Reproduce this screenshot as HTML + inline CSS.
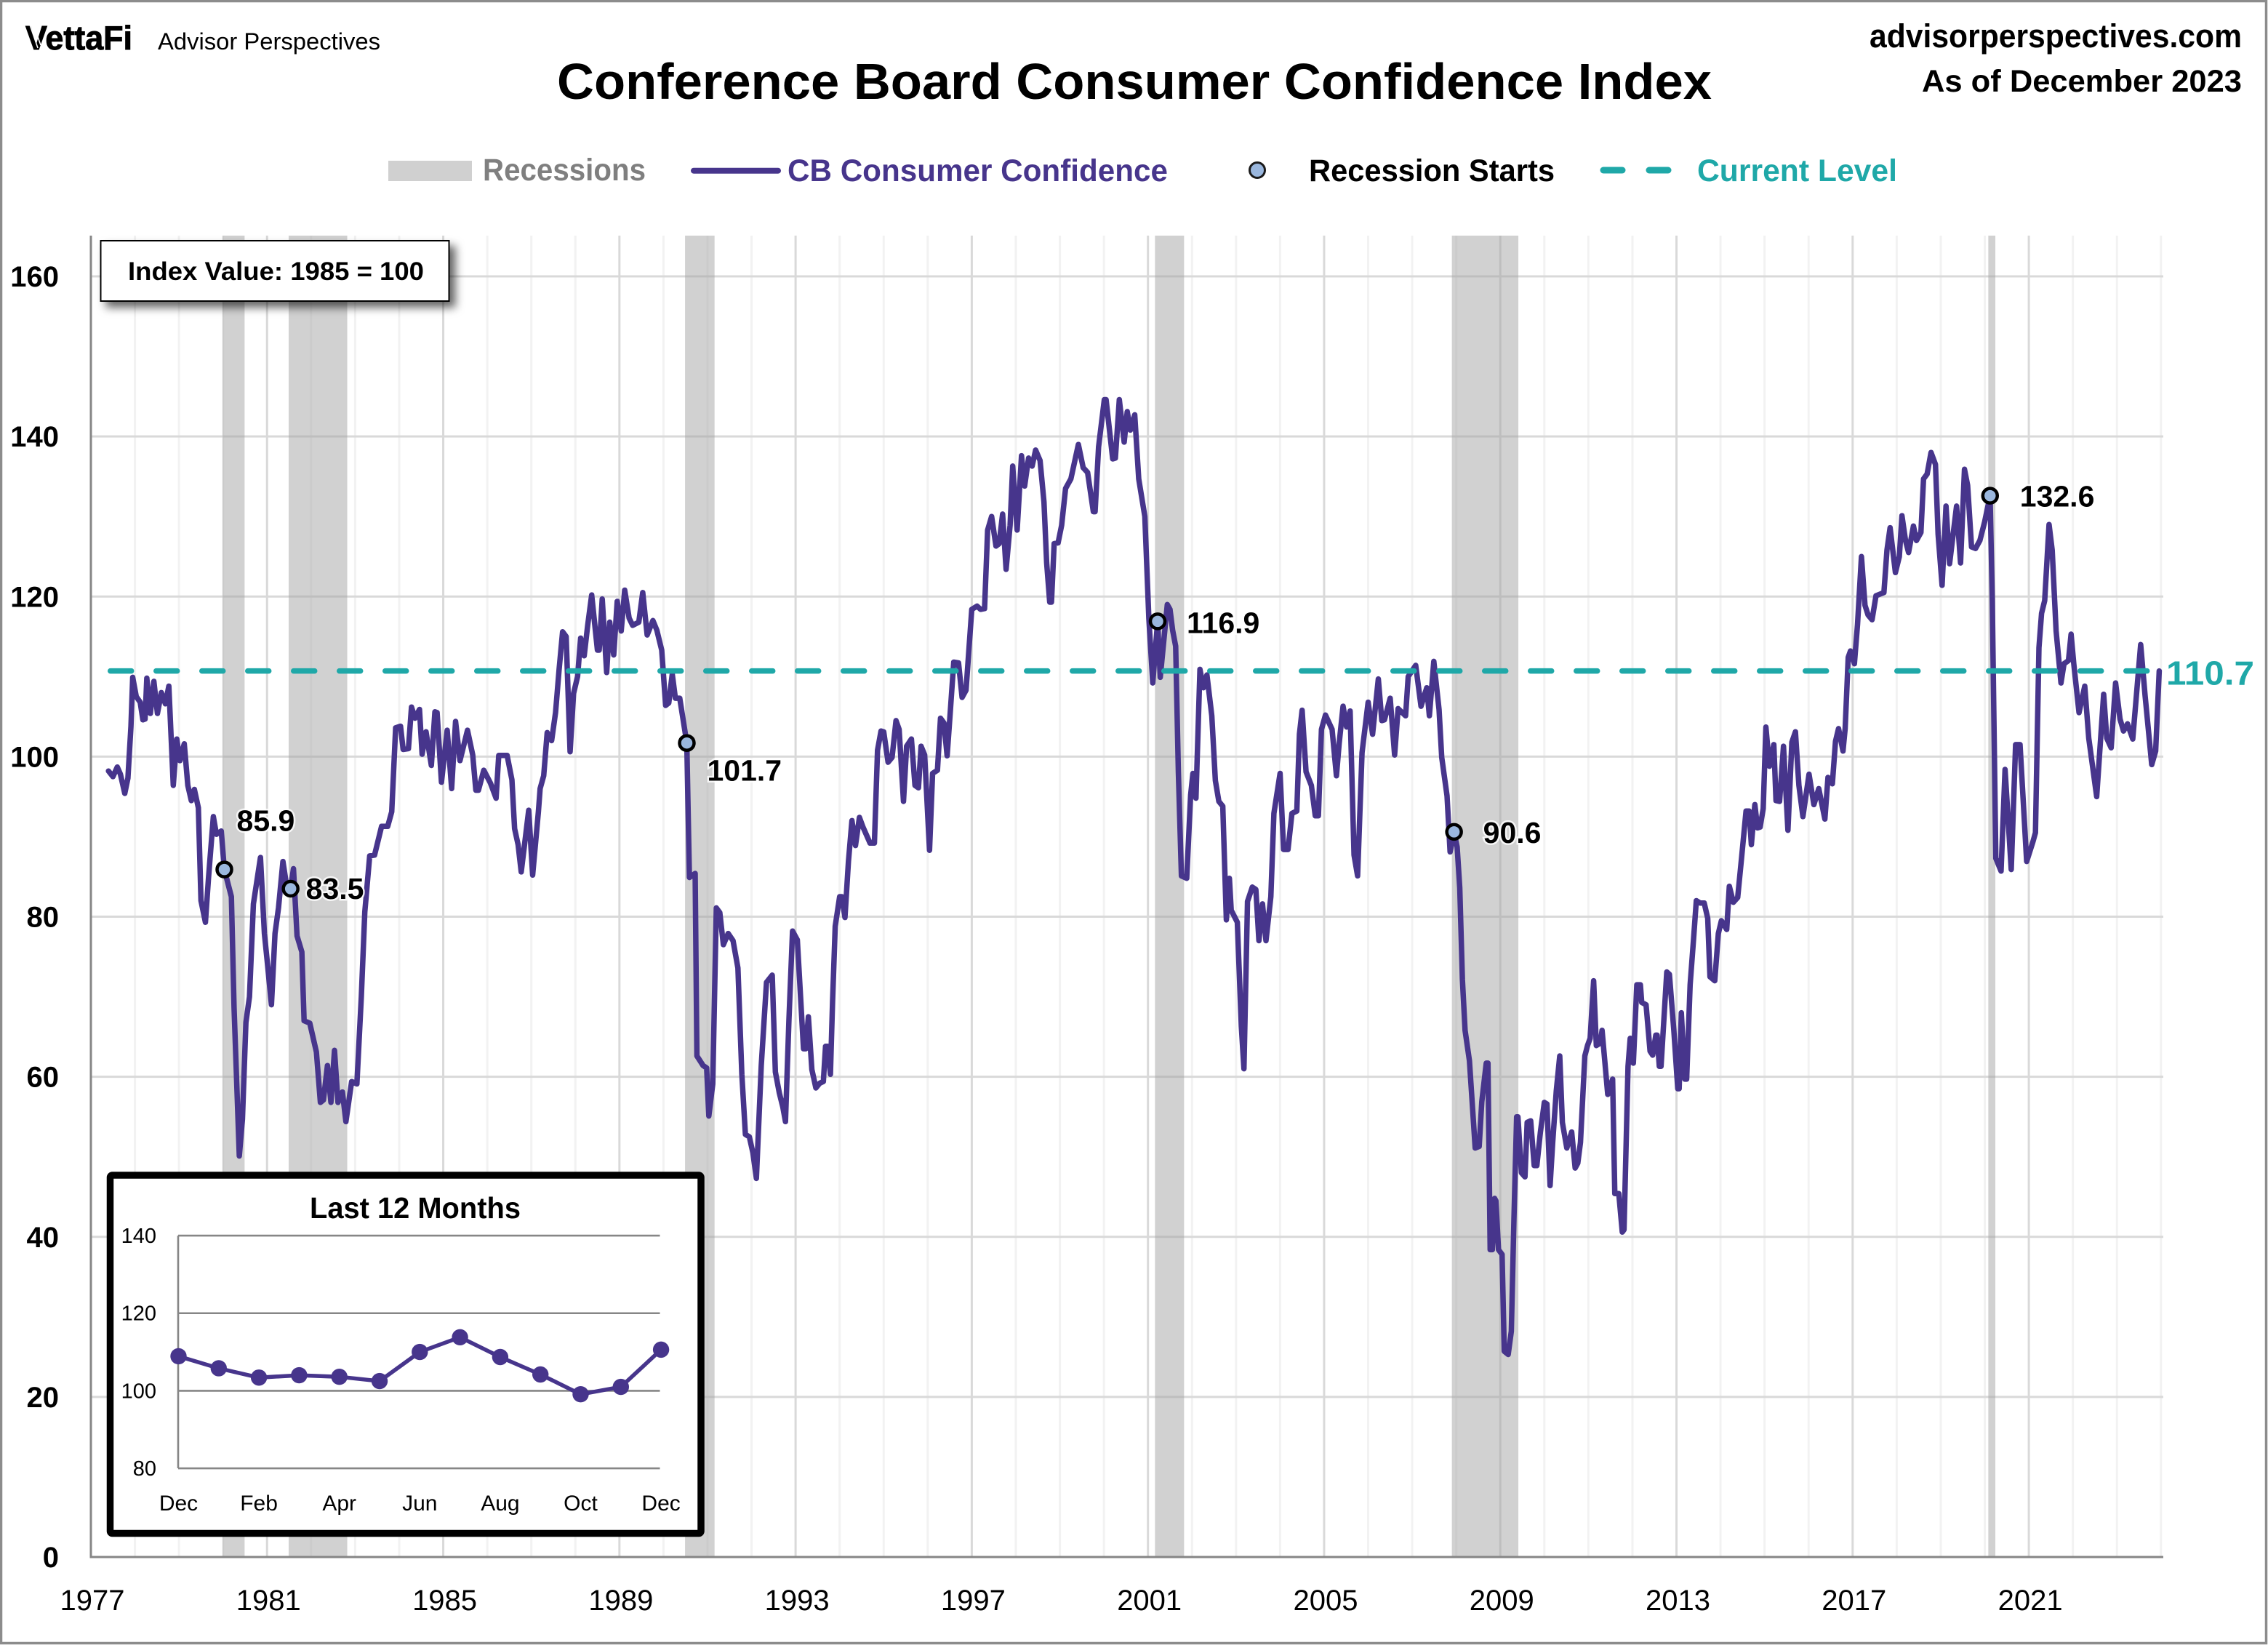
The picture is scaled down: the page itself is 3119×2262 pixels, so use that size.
<!DOCTYPE html>
<html lang="en">
<head>
<meta charset="utf-8">
<title>Conference Board Consumer Confidence Index</title>
<style>
html,body{margin:0;padding:0;background:#fff;width:3119px;height:2262px;overflow:hidden}
svg{display:block}
text{font-family:"Liberation Sans",sans-serif}
</style>
</head>
<body>
<svg id="chart" xmlns="http://www.w3.org/2000/svg" width="3119" height="2262" viewBox="0 0 3119 2262">
  <defs>
    <filter id="box-shadow" x="-10%" y="-20%" width="125%" height="150%">
      <feDropShadow dx="8" dy="8" stdDeviation="6" flood-color="#000" flood-opacity="0.6"/>
    </filter>
  </defs>
  <rect x="0" y="0" width="3119" height="2262" fill="#fff"/>
  <rect x="1.5" y="1.5" width="3115" height="2258" fill="none" stroke="#8c8c8c" stroke-width="3.5"/>

  <g>
    <text x="35" y="68" font-size="46" font-weight="700" textLength="147" lengthAdjust="spacingAndGlyphs" fill="#000" stroke="#000" stroke-width="1">VettaFi</text>
    <line x1="41" y1="34" x2="52" y2="66" stroke="#fff" stroke-width="1.6"/>
    <line x1="46" y1="34" x2="56" y2="62" stroke="#fff" stroke-width="1.6"/>
  </g>
  <text x="217" y="68" font-size="32" textLength="306" lengthAdjust="spacingAndGlyphs" fill="#000">Advisor Perspectives</text>
  <text x="766" y="136" font-size="70" font-weight="700" textLength="1588" lengthAdjust="spacingAndGlyphs" fill="#000">Conference Board Consumer Confidence Index</text>
  <text x="3083" y="65" text-anchor="end" font-size="45" font-weight="700" textLength="512" lengthAdjust="spacingAndGlyphs" fill="#000">advisorperspectives.com</text>
  <text x="3083" y="126" text-anchor="end" font-size="43" font-weight="700" textLength="440" lengthAdjust="spacingAndGlyphs" fill="#000">As of December 2023</text>

  <g>
    <rect x="534" y="221" width="115" height="28" fill="#d0d0d0"/>
    <text x="664" y="248" font-size="43" font-weight="700" textLength="224" lengthAdjust="spacingAndGlyphs" fill="#7f7f7f">Recessions</text>
    <line x1="954" y1="234.7" x2="1070" y2="234.7" stroke="#47358c" stroke-width="8" stroke-linecap="round"/>
    <text x="1083" y="249" font-size="43" font-weight="700" textLength="523" lengthAdjust="spacingAndGlyphs" fill="#47358c">CB Consumer Confidence</text>
    <circle cx="1729" cy="234" r="10.5" fill="#9ab7de" stroke="#1a1a1a" stroke-width="3"/>
    <text x="1800" y="249" font-size="43" font-weight="700" textLength="338" lengthAdjust="spacingAndGlyphs" fill="#000">Recession Starts</text>
    <line x1="2205" y1="234" x2="2231" y2="234" stroke="#1fa8a8" stroke-width="9" stroke-linecap="round"/>
    <line x1="2268" y1="234" x2="2294" y2="234" stroke="#1fa8a8" stroke-width="9" stroke-linecap="round"/>
    <text x="2334" y="249" font-size="43" font-weight="700" textLength="275" lengthAdjust="spacingAndGlyphs" fill="#1fa8a8">Current Level</text>
  </g>

  <g id="grid"></g>
  <g id="bands"></g>
  <g id="axes"></g>
  <g id="series"></g>

  <g>
    <rect x="138.5" y="331" width="479" height="83" fill="#fff" stroke="#000" stroke-width="2" filter="url(#box-shadow)"/>
    <text x="176" y="385" font-size="35" font-weight="700" textLength="407" lengthAdjust="spacingAndGlyphs" fill="#000">Index Value: 1985 = 100</text>
  </g>

  <g id="inset">
    <rect x="151.5" y="1616" width="812.5" height="492.5" rx="3" fill="#fff" stroke="#000" stroke-width="9.5"/>
    <text x="426" y="1675" font-size="41" font-weight="700" textLength="290" lengthAdjust="spacingAndGlyphs" fill="#000">Last 12 Months</text>
  </g>
</svg>

<script>
/* ---- main chart data (decimal year of each reading, index value) ---- */
const seriesDates = [
1977.40,1977.50,1977.60,1977.67,1977.77,1977.84,1977.91,1977.95,1978.03,1978.12,1978.18,1978.23,1978.27,1978.35,1978.43,1978.51,1978.60,1978.69,1978.77,1978.87,1978.95,1979.02,1979.12,1979.20,1979.28,1979.35,1979.44,1979.50,1979.60,1979.67,1979.78,1979.85,1979.96,
1980.03,1980.19,1980.25,1980.37,1980.44,1980.52,1980.60,1980.69,1980.85,1980.94,1981.00,1981.10,1981.18,1981.26,1981.36,1981.43,1981.535,1981.60,1981.68,1981.79,1981.84,1981.97,1982.12,1982.21,1982.28,1982.37,1982.45,1982.53,1982.61,1982.71,1982.79,1982.92,
1983.04,1983.14,1983.22,1983.33,1983.44,1983.60,1983.74,1983.83,1983.92,1984.03,1984.09,1984.21,1984.28,1984.36,1984.46,1984.52,1984.61,1984.73,1984.81,1984.86,1984.96,1985.09,1985.19,1985.28,1985.38,1985.55,1985.67,1985.74,1985.80,1985.92,1986.07,1986.20,
1986.26,1986.45,1986.56,1986.62,1986.70,1986.77,1986.94,1987.03,1987.16,1987.20,1987.28,1987.36,1987.46,1987.55,1987.63,1987.71,1987.79,1987.88,1987.96,1988.05,1988.12,1988.20,1988.28,1988.37,1988.50,1988.54,1988.61,1988.71,1988.78,1988.87,1988.95,1989.04,1989.12,1989.22,1989.30,1989.44,1989.53,1989.63,1989.76,1989.85,1989.96,1990.05,1990.12,1990.20,1990.27,1990.37,
1990.53,1990.59,1990.72,1990.76,1990.90,1990.98,1991.03,1991.12,1991.20,1991.28,1991.36,1991.47,1991.58,1991.69,1991.78,1991.86,1991.95,1992.03,1992.11,1992.22,1992.34,1992.47,1992.54,1992.63,1992.71,1992.77,1992.85,1992.93,1993.04,1993.18,1993.23,1993.29,1993.37,1993.46,1993.55,1993.63,1993.68,1993.73,1993.79,1993.84,1993.90,1994.00,1994.05,1994.12,1994.20,1994.28,1994.36,1994.45,1994.53,1994.69,1994.79,1994.86,1994.94,1995.00,
1995.10,1995.19,1995.28,1995.35,1995.45,1995.52,1995.63,1995.71,1995.79,1995.85,1995.93,1996.04,1996.11,1996.22,1996.29,1996.37,1996.44,1996.51,1996.59,1996.70,1996.78,1996.87,1997.00,1997.12,1997.20,1997.29,1997.36,1997.45,1997.55,1997.62,1997.70,1997.78,1997.87,1997.93,1998.03,1998.13,1998.20,1998.29,1998.37,1998.45,1998.55,1998.64,1998.70,1998.77,1998.81,1998.87,1998.96,
1999.04,1999.13,1999.25,1999.42,1999.53,1999.63,1999.76,1999.80,1999.88,2000.01,2000.05,2000.20,2000.26,2000.35,2000.46,2000.53,2000.60,2000.70,2000.79,2000.93,2001.02,2001.11,2001.22,2001.28,2001.44,2001.50,2001.56,2001.63,2001.69,2001.76,2001.88,2001.97,2002.02,2002.09,2002.18,2002.26,2002.34,2002.45,2002.53,2002.61,2002.70,2002.78,2002.85,2002.89,
2003.03,2003.12,2003.18,2003.26,2003.37,2003.45,2003.52,2003.60,2003.68,2003.79,2003.86,2004.00,2004.08,2004.18,2004.27,2004.38,2004.44,2004.50,2004.59,2004.71,2004.80,2004.87,2004.94,2005.03,2005.18,2005.28,2005.34,2005.43,2005.51,2005.59,2005.68,2005.76,2005.86,2006.00,2006.10,2006.23,2006.31,2006.37,2006.50,2006.60,2006.68,2006.85,2006.91,2007.08,2007.20,2007.33,2007.39,2007.49,
2007.61,2007.67,2007.79,2007.86,2007.95,2008.02,2008.08,2008.14,2008.20,2008.30,2008.36,2008.43,2008.52,2008.58,2008.68,2008.72,2008.77,2008.82,2008.87,2008.90,2008.96,2009.04,2009.09,2009.18,2009.25,2009.31,2009.37,2009.40,2009.48,2009.56,2009.61,2009.69,2009.77,2009.83,2009.91,2010.00,2010.06,2010.13,2010.19,2010.27,2010.35,2010.41,2010.51,2010.62,2010.70,2010.76,2010.82,2010.92,2010.98,
2011.04,2011.12,2011.18,2011.27,2011.31,2011.44,2011.55,2011.60,2011.69,2011.77,2011.81,2011.90,2011.95,2012.02,2012.10,2012.18,2012.21,2012.31,2012.40,2012.46,2012.53,2012.56,2012.61,2012.65,2012.78,2012.84,2012.94,2013.03,2013.06,2013.11,2013.19,2013.23,2013.31,2013.39,2013.45,2013.54,2013.63,2013.71,2013.76,2013.87,2013.95,
2014.02,2014.14,2014.20,2014.29,2014.39,2014.48,2014.58,2014.65,2014.70,2014.78,2014.84,2014.90,2014.97,2015.03,2015.11,2015.21,2015.26,2015.34,2015.43,2015.53,2015.62,2015.70,2015.78,2015.87,2016.01,2016.12,2016.23,2016.37,2016.44,2016.54,2016.61,2016.68,2016.78,2016.83,2016.90,2016.95,
2017.04,2017.11,2017.20,2017.28,2017.35,2017.44,2017.53,2017.71,2017.78,2017.85,2017.97,2018.06,2018.12,2018.20,2018.27,2018.38,2018.45,2018.55,2018.61,2018.69,2018.78,2018.88,2018.94,2019.03,2019.12,2019.20,2019.36,2019.45,2019.54,2019.61,2019.70,2019.79,2019.89,2020.00,2020.12,
2020.17,2020.25,2020.37,2020.46,2020.60,2020.70,2020.80,2020.95,2021.09,2021.15,2021.23,2021.29,2021.36,2021.46,2021.53,2021.62,2021.73,2021.80,2021.90,2021.96,2022.02,2022.14,2022.27,2022.36,2022.54,2022.70,2022.77,2022.87,2022.97,2023.07,2023.15,2023.24,2023.36,2023.54,2023.64,2023.79,2023.88,2023.96
];
const seriesValues = [
98.2,97.5,98.7,97.8,95.4,97.3,103.8,109.9,107.5,106.8,104.6,104.7,109.8,105.4,109.4,105.4,108,106.6,108.8,96.4,102.2,99.5,101.6,96.4,94.5,95.9,93.6,82,79.3,84.8,92.5,90.3,90.7,
85.9,82.5,68.6,50.1,54.7,66.8,70,81.6,87.4,77.9,74.6,69,77.9,81.1,86.9,84.4,83.5,86,77.6,75.6,67,66.7,63.1,56.8,57.1,61.4,56.8,63.3,56.8,58.1,54.4,59.4,
59.1,70,80.6,87.6,87.7,91.3,91.3,93.1,103.6,103.8,100.9,101,106.2,104.8,105.9,100.3,103.1,98.9,105.6,105.5,96.8,103.3,96,104.4,99.5,103.3,100.2,95.8,95.8,98.3,96.7,94.8,
100.15,100.15,97.1,91,89,85.6,93.3,85.2,93.1,96,97.6,103,102,105.5,110.9,115.6,115,100.6,107.9,110,114.8,112.6,116.4,120.2,113.3,113.3,119.7,110.5,116.8,112.7,119.4,115.7,120.8,117.3,116.4,116.8,120.5,115.2,117,115.8,113.3,106.4,106.7,110.3,107.3,107.3,
101.7,84.9,85.4,62.6,61.4,61.1,55.1,59.1,81.1,80.5,76.5,77.9,77,73.6,60.3,52.8,52.5,50.5,47.3,61.4,71.8,72.7,60.6,58,56.2,54.4,67.2,78.2,77.1,63.5,63.5,67.5,60.9,58.6,59.2,59.4,63.8,63.8,60.3,69.5,78.8,82.5,82.5,79.9,86.9,92,88.9,92.4,91.2,89.2,89.2,100.8,103.2,103.1,
99.3,99.9,104.5,103.4,94.4,101.3,102.2,96.4,96.1,101.3,100.2,88.3,97.9,98.3,104.8,104.2,100.1,105.4,111.8,111.7,107.4,108.3,118.4,118.8,118.4,118.5,128.3,130,126.3,126.6,130.3,123.4,128.9,136.3,128.3,137.6,133.8,137.3,136.3,138.3,137,131.8,124.2,119.3,119.3,126.6,126.7,
128.9,133.5,134.7,139,136.1,135.5,130.6,130.6,138.7,144.6,144.6,137.2,137.3,144.6,139.3,143.1,140.8,142.7,134.7,130,117.3,109.2,116.9,109.9,119,118.4,115.8,113.8,98.1,85.1,84.8,95.2,97.9,94.8,110.9,108.6,110.2,105.1,97,94.4,93.8,79.6,84.8,80.8,
79.3,66.3,61,81.9,83.7,83.4,77,81.6,77,82.5,92.9,97.9,88.4,88.4,92.9,93.2,102.8,105.8,98.1,96.4,92.6,92.6,103.4,105.2,103.4,97.6,101.6,106.3,103.7,105.7,87.7,85.1,100.5,106.8,102.8,109.7,104.5,104.6,107.3,100.2,106,105.1,110,111.4,106.3,108.6,105.1,111.9,
105.9,99.9,95.1,88.1,90.6,88.7,83.6,72.2,65.8,62,56.9,51.1,51.3,56.9,61.7,61.7,38.4,38.4,44.8,44.5,38.4,37.8,25.7,25.3,28.2,42.2,55,55,48,47.5,54.3,54.5,48.9,48.9,53.1,56.8,56.6,46.4,51.8,58.2,62.6,54.3,51.1,53.1,48.6,49.2,51.8,62.6,63.9,
64.8,72,63.9,64.2,65.8,57.8,59.7,45.4,45.4,40.6,40.9,61.3,64.8,61.7,71.5,71.5,69.3,69,63.2,62.7,65.2,65.2,61.3,61.3,73.1,72.8,65.8,58.5,58.5,68,59.7,59.7,71.5,77.3,82,81.7,81.7,79.8,72.5,72,77.9,
79.5,78.4,83.8,81.8,82.4,87.5,93.2,93.2,89,94,91.1,91.2,93.5,103.7,98.8,101.5,94.5,94.4,101.3,90.8,101.8,103.1,96.4,92.5,97.8,94,96,92.2,97.4,96.6,101.9,103.5,100.7,103.5,112.4,113.2,
111.6,116.5,125,118.9,117.7,117.1,120.1,120.5,125.8,128.6,123,125,130.1,127,125.5,128.8,127,128,134.7,135.3,138,136.5,127.8,121.4,131.3,124.1,131.3,124.2,135.9,133.9,126.2,126,127,129.4,132.6,
119.7,87.3,85.7,98.4,85.9,101.5,101.5,86.9,89.3,90.5,113.6,117.9,119.5,129,125.8,115.7,109.2,111.6,112,115.3,111.6,105.5,108.8,102.3,95,107.8,102.3,101.1,109.2,104.7,103.2,104.1,102.2,114,107.6,99,100.7,110.7
];
const currentLevel = 110.7;
const yTicks = [160,140,120,100,80,60,40,20,0];
const xTickYears = [1977,1981,1985,1989,1993,1997,2001,2005,2009,2013,2017,2021];
const recessionStarts = [1979.99,1981.49,1990.49,2001.16,2007.90,2020.08];
const recessionEnds = [1980.49,1982.82,1991.16,2001.82,2009.41,2020.24];
const markerDates = [1980.03,1981.535,1990.53,2001.22,2007.95,2020.12];
const markerValues = [85.9,83.5,101.7,116.9,90.6,132.6];

/* ---- inset data ---- */
const insetMonths = ['Dec','Jan','Feb','Mar','Apr','May','Jun','Jul','Aug','Sep','Oct','Nov','Dec'];
const insetValues = [108.9,105.8,103.4,104.0,103.6,102.5,110.0,113.8,108.7,104.2,99.1,101.0,110.6];
const insetYTicks = [140,120,100,80];

/* ---- layout (not data) ---- */
const NS = 'http://www.w3.org/2000/svg';
const plot = {left:125, right:2975, top:324, bottom:2141};
const PX_PER_YEAR = 60.57, PX_PER_UNIT = 11.006;
const inset = {left:245, right:907.5, firstX:245.5, stepX:55.3, y100:1912.4, unit:5.333};
const labelOffset = [[18,-53],[22,14],[29,52],[41,16],[41,15],[42,15]];

function xOf(t){ return plot.left + (t - 1977) * PX_PER_YEAR; }
function yOf(v){ return plot.bottom - v * PX_PER_UNIT; }
function insetX(i){ return inset.firstX + i * inset.stepX; }
function insetY(v){ return inset.y100 - (v - 100) * inset.unit; }
function mk(parent, tag, attrs, txt){
  const el = document.createElementNS(NS, tag);
  for (const k in attrs) el.setAttribute(k, attrs[k]);
  if (txt !== undefined) el.textContent = txt;
  parent.appendChild(el);
  return el;
}

const gGrid = document.getElementById('grid');
const gBands = document.getElementById('bands');
const gAxes = document.getElementById('axes');
const gSeries = document.getElementById('series');
const gInset = document.getElementById('inset');

/* vertical grid: every year, darker on labelled years */
for (let yr = 1978; yr <= 2024; yr++) {
  const major = xTickYears.indexOf(yr) >= 0;
  const vl = mk(gGrid, 'line', {x1:xOf(yr), x2:xOf(yr), y1:plot.top, y2:plot.bottom, stroke: major ? '#d9d9d9' : '#f2f2f2', 'stroke-width':3});
  
  
}
/* horizontal grid and y labels */
yTicks.forEach(function(v){
  if (v > 0) {
    const hl = mk(gGrid, 'line', {x1:plot.left, x2:plot.right, y1:yOf(v), y2:yOf(v), stroke:'#d9d9d9', 'stroke-width':3});
    
    
  }
  const tl = mk(gAxes, 'text', {x:81, y:yOf(v) + 14, 'text-anchor':'end', 'font-size':40, 'font-weight':700, fill:'#000'}, String(v));
  
  
});
/* recession bands */
recessionStarts.forEach(function(s, i){
  const b = mk(gBands, 'rect', {x:xOf(s), y:plot.top, width:xOf(recessionEnds[i]) - xOf(s), height:plot.bottom - plot.top, fill:'#a3a3a3', 'fill-opacity':0.5});
  
  
});
/* axes lines */
const yAxis = mk(gAxes, 'line', {x1:plot.left, x2:plot.left, y1:plot.top, y2:plot.bottom + 1.5, stroke:'#868686', 'stroke-width':3});


const xAxis = mk(gAxes, 'line', {x1:plot.left, x2:plot.right, y1:plot.bottom, y2:plot.bottom, stroke:'#868686', 'stroke-width':3});


xTickYears.forEach(function(yr){
  const xl = mk(gAxes, 'text', {x:xOf(yr) + 2, y:2214, 'text-anchor':'middle', 'font-size':40, fill:'#000'}, String(yr));
  
  
});

/* main series */
const n = Math.min(seriesDates.length, seriesValues.length);
let pts = [];
for (let i = 0; i < n; i++) pts.push(xOf(seriesDates[i]).toFixed(1) + ',' + yOf(seriesValues[i]).toFixed(1));
const mainLine = mk(gSeries, 'polyline', {points:pts.join(' '), fill:'none', stroke:'#47358c', 'stroke-width':7.5, 'stroke-linejoin':'round', 'stroke-linecap':'round'});



/* current level dashed line */
const lvl = mk(gSeries, 'line', {x1:xOf(seriesDates[0]) + 2.5, x2:xOf(seriesDates[n - 1]), y1:yOf(currentLevel), y2:yOf(currentLevel), stroke:'#1fa8a8', 'stroke-width':7.5, 'stroke-linecap':'round', 'stroke-dasharray':'29 34'});


const lvlLabel = mk(gSeries, 'text', {x:2979, y:yOf(currentLevel) + 19, 'font-size':46, 'font-weight':700, fill:'#1fa8a8', textLength:121, lengthAdjust:'spacingAndGlyphs'}, currentLevel.toFixed(1));



/* recession start markers and labels */
markerDates.forEach(function(t, i){
  const c = mk(gSeries, 'circle', {cx:xOf(t), cy:yOf(markerValues[i]), r:10, fill:'#9ab7de', stroke:'#000', 'stroke-width':4.5});
  
  
  const lb = mk(gSeries, 'text', {x:xOf(t) + labelOffset[i][0] - 1, y:yOf(markerValues[i]) + labelOffset[i][1], 'font-size':41, 'font-weight':700, fill:'#000', stroke:'#fff', 'stroke-width':5, 'stroke-opacity':0.8, 'paint-order':'stroke'}, markerValues[i].toFixed(1));
  
  
});

/* inset chart */
insetYTicks.forEach(function(v){
  const g = mk(gInset, 'line', {x1:inset.left, x2:inset.right, y1:insetY(v), y2:insetY(v), stroke:'#868686', 'stroke-width':2.6});
  
  
  const t = mk(gInset, 'text', {x:215, y:insetY(v) + 10, 'text-anchor':'end', 'font-size':29, fill:'#000'}, String(v));
  
  
});
const insetAxis = mk(gInset, 'line', {x1:inset.left, x2:inset.left, y1:insetY(insetYTicks[0]), y2:insetY(insetYTicks[insetYTicks.length - 1]), stroke:'#868686', 'stroke-width':2.6});


const insetLine = mk(gInset, 'polyline', {points:insetValues.map(function(v, i){ return insetX(i).toFixed(1) + ',' + insetY(v).toFixed(1); }).join(' '), fill:'none', stroke:'#47358c', 'stroke-width':5.5});


insetValues.forEach(function(v, i){
  const d = mk(gInset, 'circle', {cx:insetX(i), cy:insetY(v), r:11.2, fill:'#47358c'});
  
  
});
insetMonths.forEach(function(m, i){
  if (i % 2 === 0) {
    const ml = mk(gInset, 'text', {x:insetX(i), y:2077, 'text-anchor':'middle', 'font-size':30, fill:'#000'}, m);
    
    
  }
});
</script>
</body>
</html>
